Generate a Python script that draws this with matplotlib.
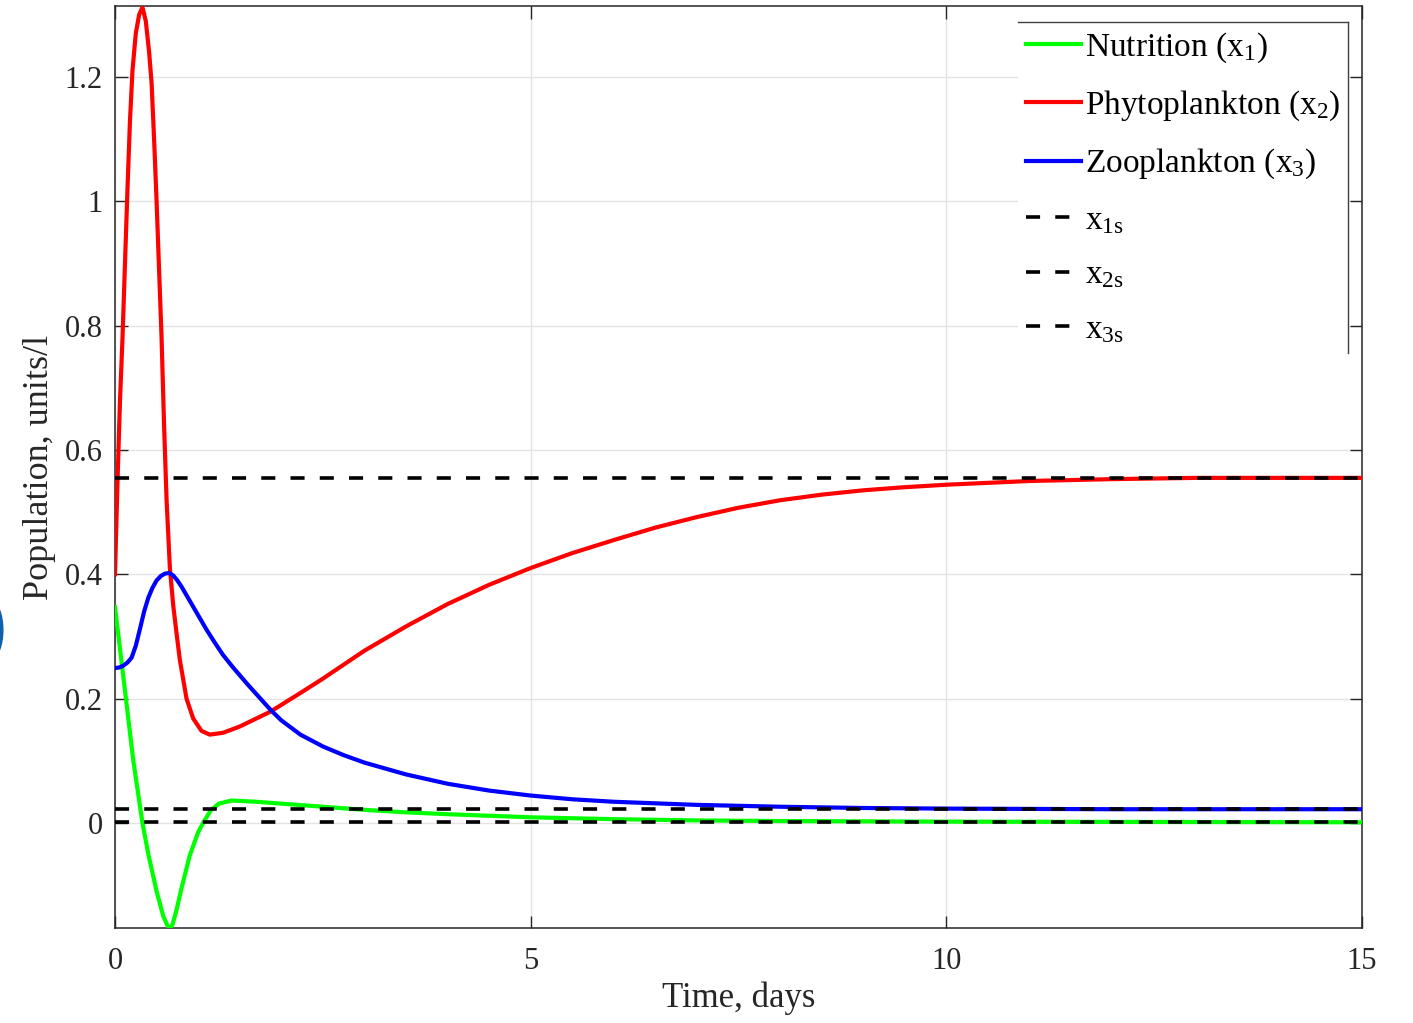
import numpy as np
import matplotlib
matplotlib.use("Agg")
import matplotlib.pyplot as plt
from matplotlib.patches import Ellipse
from matplotlib.lines import Line2D

plt.rcParams['font.family'] = ['Liberation Serif', 'DejaVu Serif']
plt.rcParams['mathtext.fontset'] = 'custom'
plt.rcParams['mathtext.rm'] = 'Liberation Serif'
plt.rcParams['mathtext.it'] = 'Liberation Serif:italic'

# values
t_phyto = [0, 0.03, 0.06, 0.09, 0.12, 0.15, 0.18, 0.21, 0.25, 0.29, 0.33, 0.37, 0.41,
           0.44, 0.47, 0.50, 0.53, 0.56, 0.59, 0.62, 0.66, 0.70, 0.74, 0.78, 0.86, 0.94,
           1.04, 1.14, 1.30, 1.50, 1.87, 2.23, 2.5, 3.0, 3.5, 4.0, 4.5, 5.0, 5.5, 6.0,
           6.5, 7.0, 7.5, 8.0, 8.5, 9.0, 9.5, 10, 11, 12, 13, 15]
x2 = [0.40, 0.55, 0.68, 0.78, 0.90, 1.02, 1.13, 1.21, 1.27, 1.30, 1.312, 1.29, 1.24,
      1.19, 1.10, 1.00, 0.89, 0.78, 0.64, 0.52, 0.41, 0.35, 0.305, 0.262, 0.20, 0.168,
      0.148, 0.142, 0.145, 0.155, 0.179, 0.209, 0.232, 0.277, 0.316, 0.352, 0.383, 0.41, 0.434, 0.455,
      0.475, 0.492, 0.507, 0.519, 0.528, 0.535, 0.540, 0.544, 0.550, 0.553, 0.555, 0.555]

t_zoo = [0, 0.05, 0.1, 0.15, 0.2, 0.25, 0.3, 0.35, 0.4, 0.45, 0.5, 0.55, 0.6, 0.65, 0.7,
         0.75, 0.8, 0.9, 1.0, 1.1, 1.2, 1.3, 1.42, 1.6, 1.87, 2.0, 2.23, 2.5, 2.75, 3.0,
         3.5, 4.0, 4.5, 5, 5.5, 6, 7, 8, 9, 10, 12, 15]
x3 = [0.249, 0.250, 0.253, 0.258, 0.266, 0.285, 0.312, 0.340, 0.362, 0.378, 0.390, 0.397, 0.401, 0.402, 0.398,
      0.390, 0.380, 0.357, 0.334, 0.311, 0.290, 0.270, 0.250, 0.222, 0.182, 0.165, 0.142, 0.123, 0.109, 0.097,
      0.078, 0.063, 0.052, 0.044, 0.038, 0.034, 0.029, 0.026, 0.024, 0.023, 0.022, 0.022]

t_nut = [0, 0.1, 0.22, 0.33, 0.4, 0.5, 0.58, 0.63, 0.66, 0.69, 0.74, 0.8, 0.9, 1.0, 1.06,
         1.15, 1.25, 1.4, 1.7, 2, 2.5, 3, 3.5, 4, 5, 6, 7, 8, 10, 15]
x1 = [0.347, 0.235, 0.10, 0.0, -0.05, -0.11, -0.15, -0.165, -0.17, -0.164, -0.14, -0.105, -0.052, -0.015, 0.0,
      0.02, 0.031, 0.036, 0.034, 0.031, 0.026, 0.021, 0.017, 0.014, 0.009, 0.006, 0.004, 0.003, 0.002, 0.001]

x1s = 0.0015
x2s = 0.555
x3s = 0.022

labels = ['Nutrition ($\\mathrm{x_1}$)', 'Phytoplankton ($\\mathrm{x_2}$)', 'Zooplankton ($\\mathrm{x_3}$)',
          '$\\mathrm{x_{1s}}$', '$\\mathrm{x_{2s}}$', '$\\mathrm{x_{3s}}$']
yticks = [0, 0.2, 0.4, 0.6, 0.8, 1, 1.2]
ytick_labels = ['0', '0.2', '0.4', '0.6', '0.8', '1', '1.2']
xticks = [0, 5, 10, 15]

fig = plt.figure(figsize=(14.13, 10.23), dpi=100)
ax = fig.add_axes([0.0814, 0.0929, 0.8825, 0.9012])

lw = 3.0
ax.plot(t_nut, x1, color='#00ff00', lw=lw, label=labels[0], zorder=3)
ax.plot(t_phyto, x2, color='#ff0000', lw=lw, label=labels[1], zorder=3)
ax.plot(t_zoo, x3, color='#0000ff', lw=lw, label=labels[2], zorder=3)
for val, lab in zip([x1s, x2s, x3s], labels[3:]):
    ax.plot([0, 15], [val, val], color='black', lw=2.6, linestyle=(0, (3.9, 4.2)),
            label=lab, zorder=4)

ax.set_xlim(0, 15)
ax.set_ylim(-0.169, 1.314)
ax.set_xticks(xticks)
ax.set_xticklabels([str(v) for v in xticks])
ax.set_yticks(yticks)
ax.set_yticklabels(ytick_labels)
ax.grid(True, color='#e3e3e3', lw=1.0)
ax.set_axisbelow(True)
ax.tick_params(direction='in', length=9, width=1.0, colors='#262626', labelsize=22,
               top=True, right=True)
ax.tick_params(axis='x', pad=14)
ax.tick_params(axis='y', pad=9)
for s in ax.spines.values():
    s.set_color('#262626')
    s.set_linewidth(1.1)

ax.set_xlabel('Time, days', fontsize=25, color='#262626', labelpad=4)
ax.set_ylabel('Population, units/l', fontsize=26, color='#262626', labelpad=6)

leg = ax.legend(loc='upper right', bbox_to_anchor=(0.989, 0.983), borderaxespad=0,
                fontsize=24, handlelength=1.65, handletextpad=0.1, labelspacing=0.72,
                borderpad=0.25, frameon=True, fancybox=False, framealpha=1)
leg.get_frame().set_edgecolor('none')

# only top and right edges of the legend box are drawn in the original
fig.canvas.draw()
bb = leg.get_window_extent().transformed(fig.transFigure.inverted())
fig.add_artist(Line2D([bb.x0, bb.x1], [bb.y1, bb.y1], transform=fig.transFigure,
                      color='#404040', lw=1.0))
fig.add_artist(Line2D([bb.x1, bb.x1], [bb.y0, bb.y1], transform=fig.transFigure,
                      color='#404040', lw=1.0))

# stray blue blob cut by the left edge
fig.add_artist(Ellipse((-0.006, 1 - 630 / 1023), 0.016, 0.055, transform=fig.transFigure,
                       color='#1060b0'))

fig.savefig('out.png', dpi=100)
